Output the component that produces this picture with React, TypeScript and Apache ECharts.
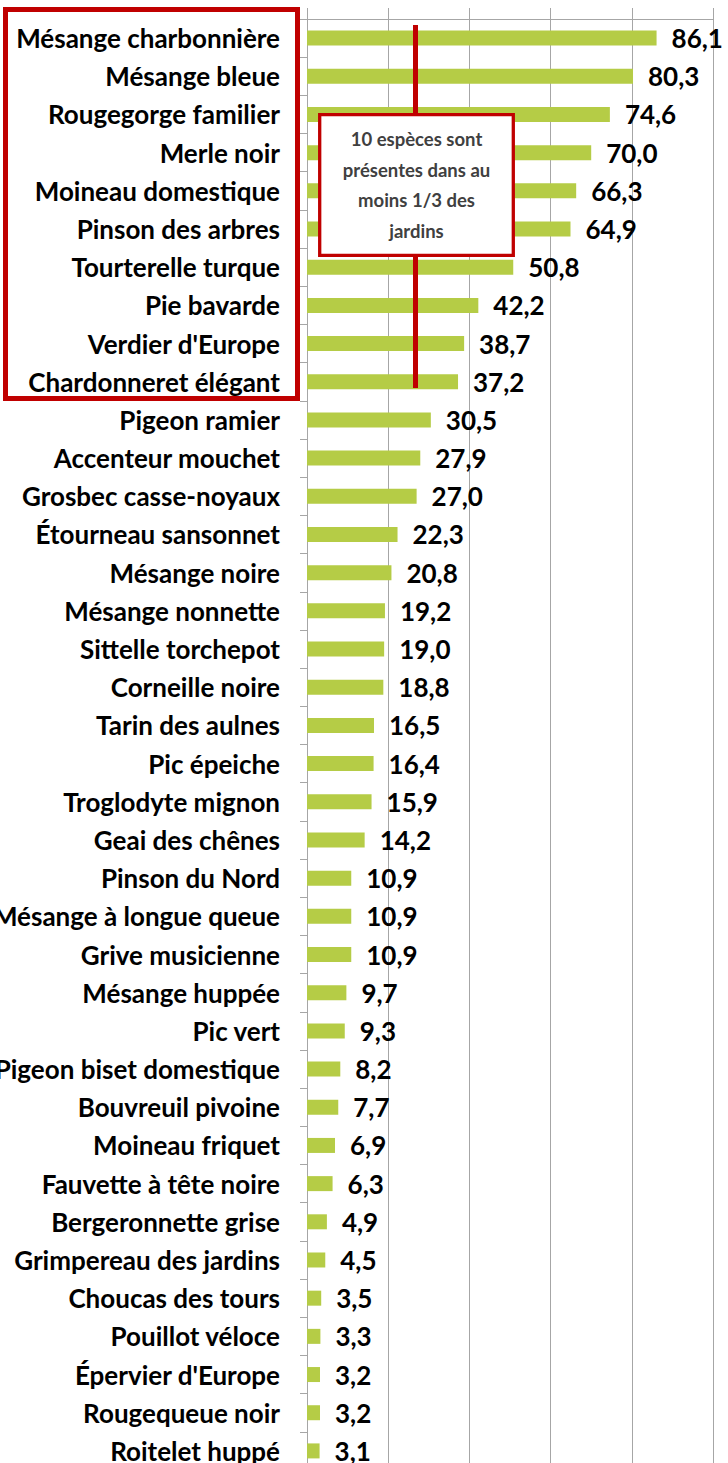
import React, { useEffect, useRef } from "react";
import * as echarts from "echarts";

const categories = [
  "Mésange charbonnière", "Mésange bleue", "Rougegorge familier", "Merle noir",
  "Moineau domestique", "Pinson des arbres", "Tourterelle turque", "Pie bavarde",
  "Verdier d'Europe", "Chardonneret élégant", "Pigeon ramier", "Accenteur mouchet",
  "Grosbec casse-noyaux", "Étourneau sansonnet", "Mésange noire", "Mésange nonnette",
  "Sittelle torchepot", "Corneille noire", "Tarin des aulnes", "Pic épeiche",
  "Troglodyte mignon", "Geai des chênes", "Pinson du Nord", "Mésange à longue queue",
  "Grive musicienne", "Mésange huppée", "Pic vert", "Pigeon biset domestique",
  "Bouvreuil pivoine", "Moineau friquet", "Fauvette à tête noire", "Bergeronnette grise",
  "Grimpereau des jardins", "Choucas des tours", "Pouillot véloce", "Épervier d'Europe",
  "Rougequeue noir", "Roitelet huppé",
];

const values = [
  86.1, 80.3, 74.6, 70.0, 66.3, 64.9, 50.8, 42.2, 38.7, 37.2,
  30.5, 27.9, 27.0, 22.3, 20.8, 19.2, 19.0, 18.8, 16.5, 16.4,
  15.9, 14.2, 10.9, 10.9, 10.9, 9.7, 9.3, 8.2, 7.7, 6.9,
  6.3, 4.9, 4.5, 3.5, 3.3, 3.2, 3.2, 3.1,
];

const annotationText = "10 espèces sont\nprésentes dans au\nmoins 1/3 des\njardins";

const FONT = "Lato, 'Noto Sans', sans-serif";

export default function App() {
  const ref = useRef<HTMLDivElement>(null);
  useEffect(() => {
    if (!ref.current) return;
    const chart = echarts.init(ref.current, undefined, { renderer: "svg" });
    chart.setOption({
      animation: false,
      backgroundColor: "#ffffff",
      grid: {
        left: 307,
        right: 15,
        top: 19,
        bottom: 10,
        containLabel: false,
        outerBoundsMode: "none",
      },
      xAxis: {
        type: "value",
        position: "top",
        min: 0,
        max: 100,
        interval: 20,
        axisLine: { show: true, lineStyle: { color: "#a6a6a6", width: 1 } },
        axisTick: { show: true, length: 11, lineStyle: { color: "#a6a6a6" } },
        axisLabel: { show: false },
        splitLine: { show: true, lineStyle: { color: "#a6a6a6", width: 1 } },
      },
      yAxis: {
        type: "category",
        inverse: true,
        data: categories,
        axisLine: { show: true, lineStyle: { color: "#a6a6a6", width: 1 } },
        axisTick: { show: true, length: 7, lineStyle: { color: "#a6a6a6" } },
        axisLabel: {
          interval: 0,
          margin: 27,
          color: "#000000",
          fontFamily: FONT,
          fontWeight: "bold",
          fontSize: 26,
        },
        splitLine: { show: false },
      },
      series: [
        {
          type: "bar",
          data: values,
          barWidth: 15,
          itemStyle: { color: "#b5cc46" },
          label: {
            show: true,
            position: "right",
            distance: 15,
            color: "#000000",
            fontFamily: FONT,
            fontWeight: "bold",
            fontSize: 26,
            formatter: (p: any) => Number(p.value).toFixed(1).replace(".", ","),
          },
        },
      ],
      graphic: [
        {
          type: "rect",
          z: 100,
          shape: { x: 5.5, y: 9.5, width: 292, height: 389 },
          style: { fill: "none", stroke: "#c00000", lineWidth: 5 },
        },
        {
          type: "line",
          z: 100,
          shape: { x1: 415.5, y1: 25, x2: 415.5, y2: 388 },
          style: { stroke: "#c00000", lineWidth: 5 },
        },
        {
          type: "rect",
          z: 101,
          shape: { x: 319.7, y: 114.7, width: 193.6, height: 140.6 },
          style: { fill: "#ffffff", stroke: "#c00000", lineWidth: 3.3 },
        },
        {
          type: "text",
          z: 102,
          x: 416.5,
          y: 185,
          style: {
            text: annotationText,
            fill: "#404040",
            fontFamily: FONT,
            fontWeight: "bold",
            fontSize: 18.5,
            lineHeight: 30.7,
            align: "center",
            verticalAlign: "middle",
          },
        },
      ],
    });
    return () => chart.dispose();
  }, []);
  return (
    <div
      ref={ref}
      style={{ position: "absolute", left: 0, top: 0, width: 728, height: 1480 }}
    />
  );
}
